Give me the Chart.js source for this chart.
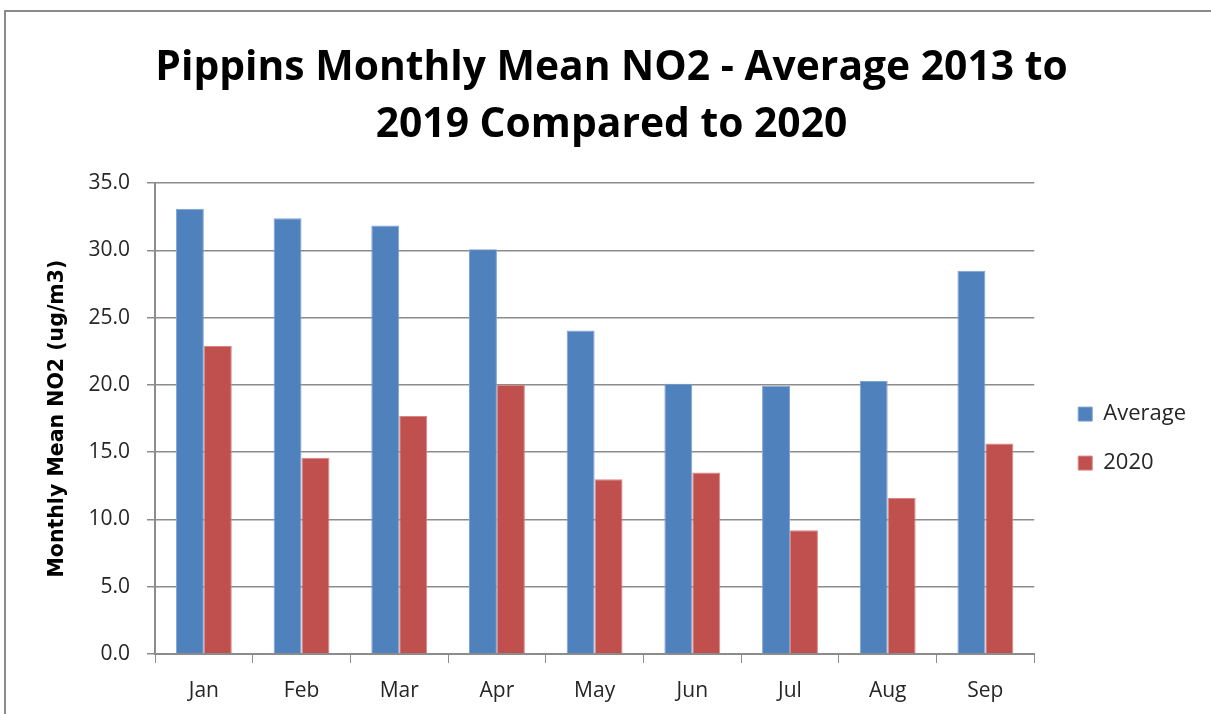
<!DOCTYPE html>
<html>
<head>
<meta charset="utf-8">
<script src="https://cdn.jsdelivr.net/npm/chart.js@4"></script>
<style>
  html, body { margin: 0; padding: 0; background: #fff; }
  #frame {
    position: absolute; left: 4px; top: 10px; width: 1300px; height: 800px;
    border-left: 2px solid #8a8a8a; border-top: 2px solid #8a8a8a;
  }
  #wrap { position: absolute; left: 0; top: 0; width: 1211px; height: 714px; }
</style>
</head>
<body>
<div id="frame"></div>
<div id="wrap"><canvas id="chart" width="1211" height="714"></canvas></div>
<script>
// Data
const months = ['Jan', 'Feb', 'Mar', 'Apr', 'May', 'Jun', 'Jul', 'Aug', 'Sep'];
const average = [33.1, 32.4, 31.85, 30.1, 24.05, 20.1, 19.95, 20.3, 28.5];
const y2020 = [22.9, 14.6, 17.7, 20.0, 13.0, 13.5, 9.2, 11.6, 15.65];
const yTicks = [0, 5, 10, 15, 20, 25, 30, 35];

const font = "'Open Sans', 'Liberation Sans', sans-serif";
const gridGray = '#8c8c8c';
const textColor = '#262626';

const ctx = document.getElementById('chart').getContext('2d');
new Chart(ctx, {
    type: 'bar',
    data: {
        labels: months,
        datasets: [
            { label: 'Average', data: average, backgroundColor: '#4F81BD', borderColor: '#7fa3d3', borderWidth: 1 },
            { label: '2020', data: y2020, backgroundColor: '#C0504D', borderColor: '#d98683', borderWidth: 1 }
        ]
    },
    options: {
        responsive: false,
        animation: false,
        layout: { padding: { left: 27, right: 15, top: 18, bottom: 10 } },
        datasets: { bar: { categoryPercentage: 0.572, barPercentage: 1.0 } },
        plugins: {
            title: {
                display: true,
                text: ['Pippins Monthly Mean NO2 - Average 2013 to', '2019 Compared to 2020'],
                color: '#000',
                font: { family: font, size: 40.8, weight: 'bold', lineHeight: 1.4 },
                padding: { top: 22, bottom: 29 }
            },
            legend: {
                position: 'right',
                fullSize: false,
                // blank title only nudges the items down like the original
                title: { display: true, text: ' ', font: { size: 10, lineHeight: 1 }, padding: { top: 0, bottom: 30 } },
                labels: {
                    color: textColor,
                    font: { family: font, size: 22 },
                    boxWidth: 14, boxHeight: 14,
                    padding: 27
                }
            },
            tooltip: { enabled: false }
        },
        scales: {
            x: {
                grid: { display: true, drawOnChartArea: false, drawTicks: true, tickLength: 9, color: gridGray, offset: true },
                border: { color: gridGray, width: 2 },
                ticks: { color: textColor, font: { family: font, size: 21 }, padding: 15 },
                afterFit: scale => { scale.height = 50; }
            },
            y: {
                min: 0, max: 35,
                afterBuildTicks: scale => { scale.ticks = yTicks.map(v => ({ value: v })); },
                grid: { color: gridGray, lineWidth: 1.5, tickLength: 8 },
                border: { color: gridGray, width: 2 },
                ticks: {
                    color: textColor, font: { family: font, size: 21 }, padding: 17,
                    callback: v => v.toFixed(1)
                },
                title: {
                    display: true,
                    text: 'Monthly Mean NO2 (ug/m3)',
                    color: '#000',
                    font: { family: "'DejaVu Sans', sans-serif", size: 20.5, weight: 'bold' },
                    padding: { top: 18, bottom: 0 }
                },
                afterFit: scale => { scale.width = 128; }
            },
            // empty spacer between plot and legend
            gap: {
                position: 'right',
                display: true,
                grid: { display: false },
                border: { display: false },
                ticks: { display: false },
                afterFit: scale => { scale.width = 17; }
            }
        }
    }
});
</script>
</body>
</html>
